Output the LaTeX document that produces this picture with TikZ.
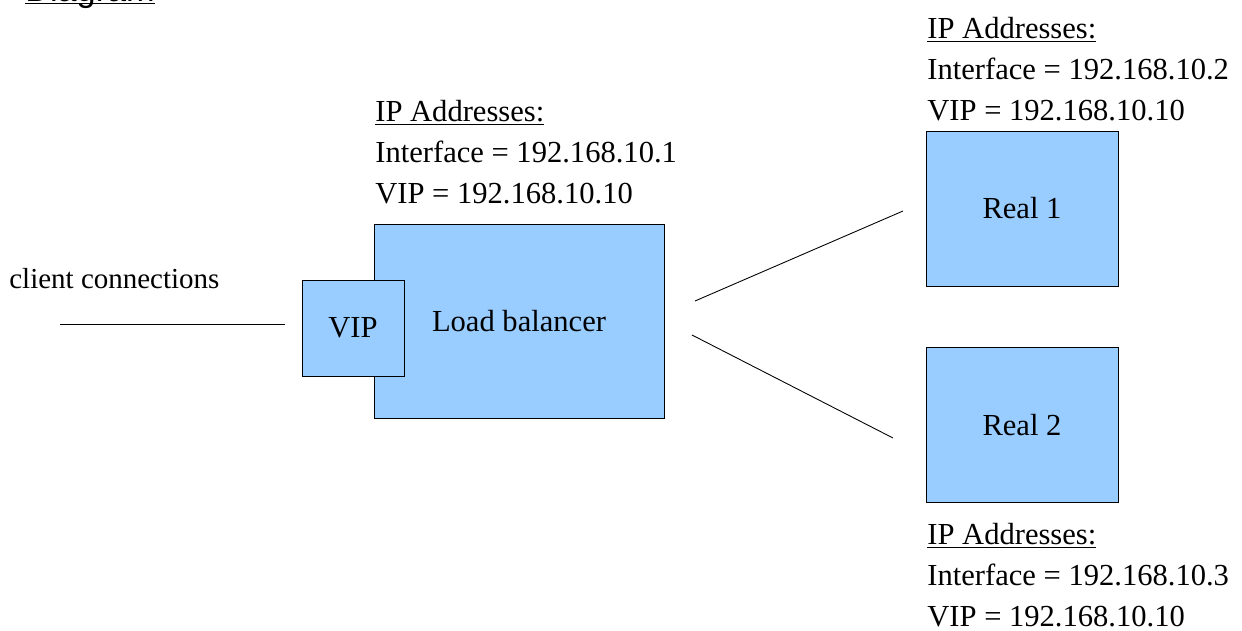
\documentclass[tikz,border=0pt]{standalone}
\usepackage{fontspec}
\setmainfont{Liberation Serif}
\setsansfont{Liberation Sans}
\usepackage{xcolor}
\usetikzlibrary{positioning}
\definecolor{boxblue}{RGB}{153,204,255}
\tikzset{%
	box/.style    = {draw, rectangle, fill=boxblue, line width=0.5pt, inner sep=0pt}, % Machine
	info/.style   = {align=left, inner sep=0pt, anchor=base west}, % Address list (anchor = last line)
	wire/.style   = {line width=0.5pt}, % Link
}
\begin{document}
\begin{tikzpicture}[x=0.02cm,y=-0.02cm,font=\fontsize{17.4}{23.3}\selectfont]
	\useasboundingbox (0,0) rectangle (1242,630);
	\node [info,font=\sffamily\fontsize{19.5}{23}\selectfont] (title) at (25,1) {\underline{\smash{Diagram}}};
	
	\node [box,minimum width=5.8cm,minimum height=3.88cm] (lb) at (519,321) {\raisebox{-3pt}{Load balancer}};
	\node [box,minimum width=2.04cm,minimum height=1.92cm] (vip) at (353,328) {\raisebox{-3pt}{VIP}};
	\node [box,minimum width=3.84cm,minimum height=3.1cm] (r1) at (1022,208.5) {\raisebox{-3pt}{Real 1}};
	\node [box,minimum width=3.84cm,minimum height=3.1cm] (r2) [below=1.22cm of r1] {\raisebox{-3pt}{Real 2}};
	
	\node [info] (lbip) at (375,203) {\underline{IP Addresses:}\\Interface = 192.168.10.1\\VIP = 192.168.10.10};
	\node [info] (r1ip) at (927,120) {\underline{IP Addresses:}\\Interface = 192.168.10.2\\VIP = 192.168.10.10};
	\node [info] (r2ip) at (927,626) {\underline{IP Addresses:}\\Interface = 192.168.10.3\\VIP = 192.168.10.10};
	\node [info,font=\fontsize{16.5}{20}\selectfont] (client) at (9,288) {client connections};
	
	\coordinate (cin) at (60,324);
	\coordinate (cout) at (285,324);
	\coordinate (lbup) at (695,301);
	\coordinate (lbdown) at (692,335);
	\coordinate (r1in) at (903,211);
	\coordinate (r2in) at (893,438);
	
	\draw [wire] (cin) -- (cout);
	\draw [wire] (lbup) -- (r1in);
	\draw [wire] (lbdown) -- (r2in);
\end{tikzpicture}
\end{document}
